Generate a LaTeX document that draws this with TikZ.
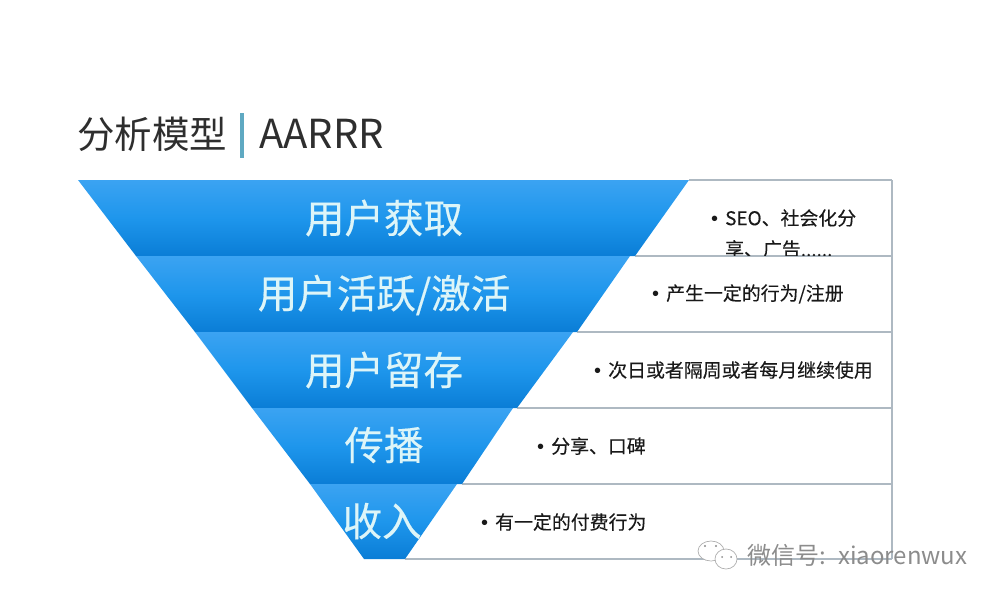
\documentclass[tikz,border=0pt]{standalone}
\usepackage{fontspec}
\setmainfont{Noto Sans CJK SC}
\newfontfamily\dotfont{Liberation Sans}
\usepackage{tikz}
\usetikzlibrary{positioning,shapes.geometric}
\definecolor{bandtop}{HTML}{3BA3F2}
\definecolor{bandmid}{HTML}{1E96EC}
\definecolor{bandbot}{HTML}{0A7DD6}
\definecolor{bandtext}{HTML}{DDF5F8}
\definecolor{rowline}{HTML}{AEB9C2}
\definecolor{barblue}{HTML}{5FA9C2}
\definecolor{markgray}{HTML}{8C8C8C}
\tikzset{
  band/.style={top color=bandtop, bottom color=bandbot, middle color=bandmid},
  bandlabel/.style={text=bandtext, font=\fontsize{39.5}{39.5}\selectfont\addfontfeature{FakeBold=0.3}, inner sep=0pt},
  rowlabel/.style={text=black!90, font=\fontsize{18.9}{22}\selectfont\addfontfeature{FakeBold=0.2}, inner sep=0pt, anchor=west},
  rowline/.style={draw=rowline, line width=1.2pt}
}
\newcommand{\rowdot}{\makebox[14pt][l]{\dotfont\fontsize{20}{22}\selectfont •}}
\begin{document}
\begin{tikzpicture}[x=1pt, y=-1pt]
  \useasboundingbox (0,0) rectangle (1000,600);

  % title
  \node[anchor=west, inner sep=0pt, text=black!82, font=\fontsize{37.5}{37.5}\selectfont] (title) at (77,134) {分析模型};
  \node[anchor=west, inner sep=0pt, text=black!82, font=\fontsize{40}{40}\selectfont] (aarrr) at (259,134) {AARRR};
  \coordinate (bar top) at (242,113);
  \coordinate (bar bot) at (242,158);
  \draw[barblue, line width=3.2pt] (bar top) -- (bar bot);

  % funnel corners
  \coordinate (a1) at (78,180);   \coordinate (b1) at (689,180);
  \coordinate (a2) at (136,256);  \coordinate (b2) at (635,256);  \coordinate (c2) at (630,256);
  \coordinate (a3) at (195,332);  \coordinate (b3) at (577,332);  \coordinate (c3) at (573,332);
  \coordinate (a4) at (252,408);  \coordinate (b4) at (517,408);  \coordinate (c4) at (513,408);
  \coordinate (a5) at (310,484);  \coordinate (b5) at (462,484);  \coordinate (c5) at (457,484);
  \coordinate (a6) at (364,559);  \coordinate (b6) at (405,559);
  \coordinate (r1) at (892,180);  \coordinate (r2) at (892,256);  \coordinate (r3) at (892,332);
  \coordinate (r4) at (892,408);  \coordinate (r5) at (892,484);  \coordinate (r6) at (892,559);

  % rows on the right
  \draw[rowline] (b1) -- (r1);
  \draw[rowline] (b2) -- (r2);
  \draw[rowline] (b3) -- (r3);
  \draw[rowline] (b4) -- (r4);
  \draw[rowline] (b5) -- (r5);
  \draw[rowline] (b6) -- (r6);
  \draw[rowline] (r1) -- (r6);

  % funnel
  \shade[band] (a1) -- (b1) -- (b2) -- (a2) -- cycle;
  \shade[band] (a2) -- (c2) -- (b3) -- (a3) -- cycle;
  \shade[band] (a3) -- (c3) -- (b4) -- (a4) -- cycle;
  \shade[band] (a4) -- (c4) -- (b5) -- (a5) -- cycle;
  \shade[band] (a5) -- (c5) -- (b6) -- (a6) -- cycle;

  \node[bandlabel] (get) at (384,218) {用户获取};
  \node[bandlabel] (active) at (384,295) {用户活跃/激活};
  \node[bandlabel] (keep) at (384,370) {用户留存};
  \node[bandlabel] (spread) at (384,445) {传播};
  \node[bandlabel] (income) at (382,521) {收入};

  % row texts
  \node[rowlabel] (seo) at (711,218) {\rowdot SEO、社会化分};
  \begin{scope}
    \clip (700,230) rectangle (880,255.4);
    \node[rowlabel] (ad) at (725,249) {享、广告......};
  \end{scope}
  \node[rowlabel] (signup) at (652,294) {\rowdot 产生一定的行为/注册};
  \node[rowlabel] (retain) at (594,370) {\rowdot 次日或者隔周或者每月继续使用};
  \node[rowlabel] (share) at (537,446) {\rowdot 分享、口碑};
  \node[rowlabel] (pay) at (481,522) {\rowdot 有一定的付费行为};

  % watermark
  \node[ellipse, draw=markgray!70, fill=white, line width=.7pt, minimum width=26pt, minimum height=20pt, inner sep=0pt] (bubble a) at (711,551) {};
  \node[ellipse, draw=markgray!70, fill=white, line width=.7pt, minimum width=22pt, minimum height=20pt, inner sep=0pt] (bubble b) at (726,559) {};
  \fill[markgray] (705,546) circle (1.2pt) (716,546) circle (1.2pt) (722,557) circle (1pt) (731,557) circle (1pt);
  \node[anchor=west, inner sep=0pt, text=markgray, font=\fontsize{24}{24}\selectfont] (mark) at (747,555) {微信号:\hspace{5pt} xiaorenwux};
\end{tikzpicture}
\end{document}
